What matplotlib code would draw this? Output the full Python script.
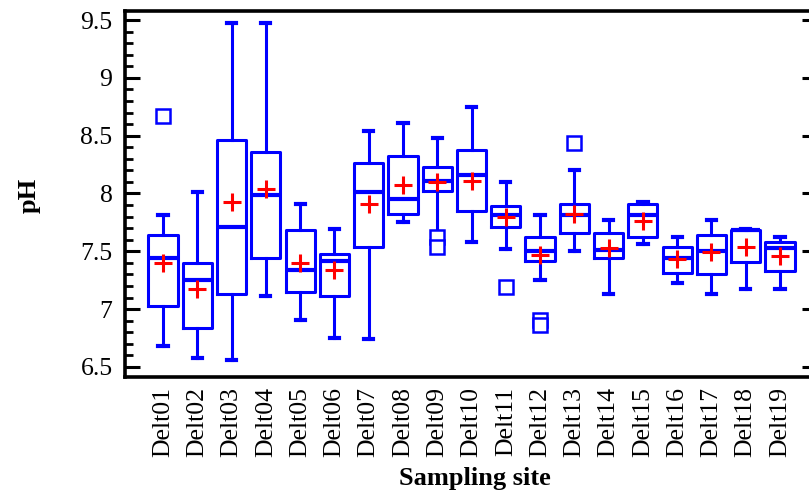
import matplotlib
matplotlib.use("Agg")
import matplotlib.pyplot as plt
from matplotlib.ticker import MultipleLocator, FuncFormatter

plt.rcParams['font.family'] = ['Liberation Serif', 'DejaVu Serif']

sites = ["Delt01", "Delt02", "Delt03", "Delt04", "Delt05", "Delt06", "Delt07",
         "Delt08", "Delt09", "Delt10", "Delt11", "Delt12", "Delt13", "Delt14",
         "Delt15", "Delt16", "Delt17", "Delt18", "Delt19"]
whislo = [6.68, 6.58, 6.56, 7.11, 6.91, 6.75, 6.74, 7.75, 7.67, 7.58, 7.52, 7.25,
          7.50, 7.13, 7.56, 7.23, 7.13, 7.17, 7.17]
q1 = [7.03, 6.84, 7.13, 7.44, 7.15, 7.11, 7.54, 7.82, 8.02, 7.85, 7.71, 7.42,
      7.66, 7.44, 7.62, 7.31, 7.30, 7.41, 7.33]
med = [7.44, 7.25, 7.71, 7.99, 7.34, 7.42, 8.01, 7.95, 8.11, 8.16, 7.81, 7.50,
       7.81, 7.51, 7.81, 7.44, 7.50, 7.68, 7.53]
q3 = [7.64, 7.40, 8.46, 8.36, 7.68, 7.48, 8.26, 8.32, 8.23, 8.38, 7.89, 7.62,
      7.91, 7.66, 7.91, 7.54, 7.64, 7.68, 7.58]
whishi = [7.81, 8.01, 9.47, 9.47, 7.91, 7.69, 8.54, 8.61, 8.48, 8.75, 8.10, 7.81,
          8.20, 7.77, 7.93, 7.62, 7.77, 7.69, 7.62]
means = [7.40, 7.17, 7.93, 8.04, 7.40, 7.34, 7.91, 8.07, 8.10, 8.11, 7.80, 7.47,
         7.82, 7.53, 7.76, 7.43, 7.49, 7.54, 7.46]
outliers = [[8.67], [], [], [], [], [], [], [], [7.62, 7.535], [], [7.19], [6.91, 6.86],
            [8.44], [], [], [], [], [], []]

stats = []
for i in range(len(sites)):
    stats.append(dict(whislo=whislo[i], q1=q1[i], med=med[i], q3=q3[i],
                      whishi=whishi[i], mean=means[i], fliers=outliers[i],
                      label=sites[i]))

W, H = 809, 495
fig = plt.figure(figsize=(W / 100, H / 100), dpi=100)
ax = fig.add_axes([125 / W, 1 - 377 / H, (817 - 125) / W, (377 - 11) / H])

blue = '#0000ff'
positions = list(range(1, len(sites) + 1))
ax.bxp(stats, positions=positions, widths=0.85, showmeans=True, showfliers=True,
       capwidths=0.27,
       boxprops=dict(color=blue, linewidth=2.2),
       medianprops=dict(color=blue, linewidth=3.0),
       whiskerprops=dict(color=blue, linewidth=2.2),
       capprops=dict(color=blue, linewidth=3.0),
       meanprops=dict(marker='+', markeredgecolor='red', markersize=13,
                      markeredgewidth=2.2, linestyle='none'),
       flierprops=dict(marker='s', markeredgecolor=blue, markerfacecolor='white',
                       markersize=10, markeredgewidth=1.8, linestyle='none'))

ax.set_xlim(-0.11, 20.08)
ax.set_ylim(6.413, 9.578)

ax.yaxis.set_major_locator(MultipleLocator(0.5))
ax.yaxis.set_minor_locator(MultipleLocator(0.1))
ax.yaxis.set_major_formatter(FuncFormatter(lambda v, p: ('%g' % round(v, 2))))
ax.tick_params(axis='y', which='major', direction='in', length=11, width=2.2,
               labelsize=18.5, pad=9, left=True, right=True)
ax.tick_params(axis='y', which='minor', direction='in', length=6, width=2.0,
               left=True, right=False)

ax.set_xticks(positions)
ax.set_xticklabels(sites, rotation=90, fontsize=18.5)
ax.tick_params(axis='x', which='both', length=0, pad=7)

for side in ['top', 'bottom', 'left', 'right']:
    ax.spines[side].set_linewidth(2.6)

fig.text(29 / W, 1 - 195 / H, 'pH', rotation=90, fontsize=19, fontweight='bold',
         ha='center', va='center')
fig.text(475 / W, 1 - 478 / H, 'Sampling site', fontsize=19, fontweight='bold',
         ha='center', va='center')

fig.savefig('out.png', dpi=100)
